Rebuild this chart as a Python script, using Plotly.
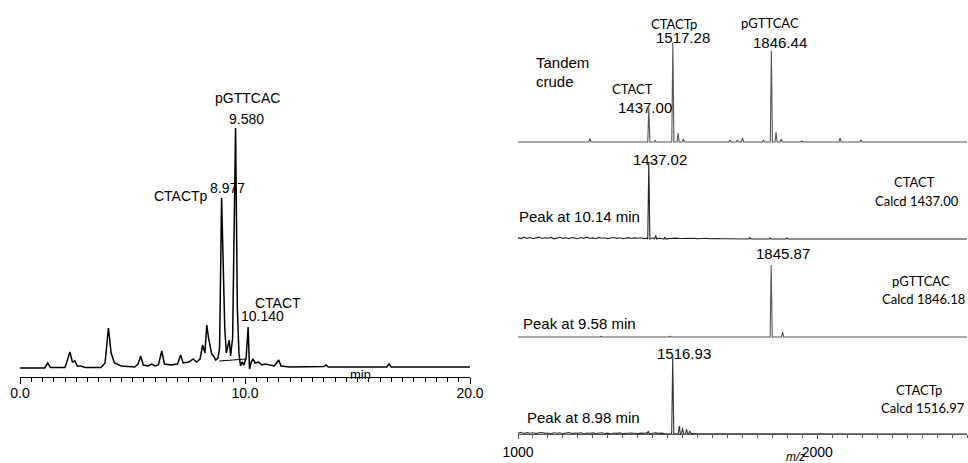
import plotly.graph_objects as go

W, H = 968, 463


def px(x):
    return x / W


def py(y):
    return 1 - y / H


# ---------------- data: HPLC chromatogram (min, signal) ----------------
chrom_time = [0.0, 1.1, 1.23, 1.35, 2.0, 2.12, 2.22, 2.33, 2.44, 2.55, 2.7, 2.9,
              3.6, 3.78, 3.93, 4.05, 4.2, 4.5, 5.1, 5.25, 5.36, 5.48, 5.7, 5.85,
              6.0, 6.15, 6.3, 6.42, 6.7, 7.0, 7.14, 7.25, 7.5, 7.7, 7.85, 8.0,
              8.12, 8.22, 8.3, 8.38, 8.44, 8.52, 8.6, 8.7, 8.8, 8.87, 8.96, 9.03,
              9.1, 9.17, 9.23, 9.3, 9.36, 9.45, 9.58, 9.66, 9.73, 9.8, 9.87, 9.95,
              10.05, 10.14, 10.2, 10.28, 10.36, 10.45, 10.6, 10.75, 10.9, 11.1,
              11.3, 11.5, 11.6, 12.0, 13.0, 13.5, 13.6, 13.7, 15.0, 16.3, 16.4,
              16.5, 18.0, 20.0]
chrom_signal = [0, 0, 5, 0.5, 0.5, 8, 16, 6, 7, 2, 2, 0.5,
                0.5, 5, 40, 15, 5, 2, 1, 4, 12, 3, 2, 4,
                2, 3, 17, 4, 3, 4, 13, 5, 6, 9, 6, 9,
                23, 15, 43, 30, 21, 14, 12, 8, 10, 20, 170, 90,
                40, 15, 20, 28, 12, 30, 240, 60, 15, 2, 6, 3,
                10, 41, -1, 6, 9, 5, 6, 3, 4, 3,
                2, 8, 2, 1, 1, 1.5, 3, 1, 1, 1, 4,
                1, 1, 1]
integ_time = [8.85, 9.3, 10.05]
integ_signal = [7, 8, 9]

chrom_peak_rt = ["8.977", "9.580", "10.140"]
chrom_peak_name = ["CTACTp", "pGTTCAC", "CTACT"]

# ---------------- data: mass spectra (m/z, intensity) ----------------
crude_mz = [1240, 1437.00, 1458, 1517.28, 1535, 1552, 1708, 1733, 1750, 1820,
            1846.44, 1862, 1879, 1948, 2076, 2146]
crude_int = [3.5, 34, 1.5, 99, 9, 3, 2, 2, 4, 2, 91, 10, 3, 1, 4, 2]

ctact_mz = [1437.02, 1460, 1491, 1775, 1842, 1898]
ctact_int = [77, 3.5, 2, 1.5, 1, 1]
ctact_noise = [1.2, 0.4, 1.8, 0.6, 1.5, 0.3, 1.1, 1.9, 0.5, 1.3, 0.8, 1.6, 0.2,
               1.0, 1.7, 0.6, 1.2, 0.4, 1.5, 0.9, 0.3, 1.4, 0.7, 1.8, 0.5, 1.1,
               0.3, 1.6, 0.8, 1.2, 0.4, 1.0, 1.5, 0.6, 1.3, 0.2, 0.9, 1.4, 0.5,
               1.1, 0.7, 1.3, 0.4, 0.9, 0.6, 1.2, 0.3, 0.8, 0.5, 1.0, 0.4, 0.7,
               0.3, 0.9, 0.5, 0.6, 0.3, 0.8, 0.4, 0.6, 0.2, 0.5, 0.4, 0.7, 0.3,
               0.5, 0.2, 0.4, 0.3, 0.5, 0.2]

pgttcac_mz = [1277, 1508, 1845.87, 1884]
pgttcac_int = [0.8, 0.8, 72, 5]

ctactp_mz = [1435, 1516.93, 1539, 1550, 1563, 1574]
ctactp_int = [3, 77, 8, 6, 5, 3]
ctactp_noise = [1.0, 1.6, 0.5, 1.4, 0.8, 1.2, 0.4, 1.1, 1.5, 0.6, 1.0, 0.3, 1.3,
                0.7, 1.2, 0.5, 0.9, 1.4, 0.4, 1.0, 0.6, 1.2, 0.3, 0.9, 0.7, 1.1,
                0.4, 0.8, 1.2, 0.5, 0.9, 0.3, 1.0, 0.6, 1.1, 0.4, 0.8, 0.5, 1.0,
                0.7, 0.4, 0.9, 0.6, 1.2, 0.5, 0.8, 1.1, 0.6, 0.9, 0.4, 0.5, 0.3,
                0.6, 0.3, 0.5, 0.2, 0.4, 0.3, 0.4, 0.2, 0.3]

mz_ticks = [1000, 2000]
rt_ticks = [0, 10, 20]


def build_spectrum(mz, inten, noise=None, half=3.5, start=1000, stop=2500, step=10):
    peaks = list(zip(mz, inten))
    pts = [(start, 0.0), (stop, 0.0)]
    if noise:
        for i, v in enumerate(noise):
            x = start + i * step
            if all(abs(x - m) > half for m in mz):
                pts.append((x, v))
    for m, h in peaks:
        pts.append((m - half, 0.0))
        pts.append((m, h))
        pts.append((m + half, 0.0))
    pts.sort(key=lambda p: p[0])
    return [p[0] for p in pts], [p[1] for p in pts]


ARIAL = "Liberation Sans, Arial, sans-serif"
CALIBRI = "Lato, Carlito, Calibri, sans-serif"

fig = go.Figure()

# chromatogram
fig.add_trace(go.Scatter(x=chrom_time, y=chrom_signal, mode="lines",
                         line=dict(color="black", width=1.5), xaxis="x", yaxis="y",
                         showlegend=False, hoverinfo="skip"))
fig.add_trace(go.Scatter(x=integ_time, y=integ_signal, mode="lines",
                         line=dict(color="black", width=1), xaxis="x", yaxis="y",
                         showlegend=False, hoverinfo="skip"))

spectra = [
    (crude_mz, crude_int, None, "#555555", "y2"),
    (ctact_mz, ctact_int, ctact_noise, "#222222", "y3"),
    (pgttcac_mz, pgttcac_int, None, "#555555", "y4"),
    (ctactp_mz, ctactp_int, ctactp_noise, "#333333", "y5"),
]
for mz, it, nz, col, ya in spectra:
    xs, ys = build_spectrum(mz, it, nz)
    fig.add_trace(go.Scatter(x=xs, y=ys, mode="lines", line=dict(color=col, width=1.1),
                             xaxis="x2", yaxis=ya, showlegend=False, hoverinfo="skip"))

bases = {"yaxis2": 142, "yaxis3": 239, "yaxis4": 337}
layout_axes = {}
for name, b in bases.items():
    layout_axes[name] = dict(domain=[py(b + 3), py(b - 117)], range=[-3, 117],
                             anchor="x2", visible=False, automargin=False)
layout_axes["yaxis5"] = dict(domain=[py(434), py(314)], range=[0, 120], anchor="x2",
                             visible=False, automargin=False)

fig.update_layout(
    width=W, height=H, autosize=False,
    margin=dict(l=0, r=0, t=0, b=0, pad=0),
    paper_bgcolor="white", plot_bgcolor="rgba(0,0,0,0)",
    showlegend=False,
    xaxis=dict(domain=[px(20), px(470)], range=[0, 20], anchor="y", automargin=False,
               showline=True, linecolor="black", linewidth=1,
               ticks="outside", ticklen=6, tickwidth=1, tickcolor="black",
               ticklabelstandoff=-3,
               tickmode="array", tickvals=rt_ticks,
               ticktext=[f"{v:.1f}" for v in rt_ticks],
               minor=dict(dtick=0.5, ticklen=4, ticks="outside", tickcolor="black",
                          tickwidth=1),
               showgrid=False, zeroline=False,
               tickfont=dict(family=ARIAL, size=14, color="black")),
    yaxis=dict(domain=[py(377), py(100)], range=[-9, 268], visible=False,
               automargin=False),
    xaxis2=dict(domain=[px(518), px(967)], range=[1000, 2500], anchor="y5",
                automargin=False,
                showline=True, linecolor="#555555", linewidth=1,
                ticks="outside", ticklen=4, tickwidth=1, tickcolor="#555555",
                ticklabelstandoff=1,
                tickmode="array", tickvals=mz_ticks,
                ticktext=[str(v) for v in mz_ticks],
                minor=dict(dtick=50, ticklen=2.5, ticks="outside", tickcolor="#555555",
                           tickwidth=1),
                showgrid=False, zeroline=False,
                tickfont=dict(family=ARIAL, size=14, color="black")),
    **layout_axes,
)


def label(text, x, y, family=ARIAL, size=14, xanchor="center"):
    fig.add_annotation(text=text, x=px(x), y=py(y), xref="paper", yref="paper",
                       xanchor=xanchor, yanchor="middle", showarrow=False,
                       borderpad=0, borderwidth=0,
                       font=dict(family=family, size=size, color="black"))


# chromatogram labels
label(chrom_peak_name[1], 248, 98)
label(chrom_peak_rt[1], 246, 119)
label(chrom_peak_name[0], 181, 196)
label(chrom_peak_rt[0], 227, 188)
label(chrom_peak_name[2], 278, 303)
label(chrom_peak_rt[2], 262, 316)
label("min", 360, 374, size=13)

# spectra labels
label("Tandem", 536, 62, size=15, xanchor="left")
label("crude", 536, 82, size=15, xanchor="left")
label("CTACT", 632, 89, family=CALIBRI, size=13)
label(f"{crude_mz[1]:.2f}", 645, 107, size=15)
label("CTACTp", 674, 24, family=CALIBRI, size=13)
label(f"{crude_mz[3]:.2f}", 683, 37, size=15)
label("pGTTCAC", 770, 23, family=CALIBRI, size=13)
label(f"{crude_mz[10]:.2f}", 780, 43, size=15)

label(f"{ctact_mz[0]:.2f}", 660, 159, size=15)
label("CTACT", 914, 182, family=CALIBRI, size=13)
label("Calcd 1437.00", 959, 201, family=CALIBRI, size=13, xanchor="right")
label("Peak at 10.14 min", 519, 216, size=15, xanchor="left")

label(f"{pgttcac_mz[2]:.2f}", 783, 253, size=15)
label("pGTTCAC", 921, 281, family=CALIBRI, size=13)
label("Calcd 1846.18", 965, 299, family=CALIBRI, size=13, xanchor="right")
label("Peak at 9.58 min", 523, 323, size=15, xanchor="left")

label(f"{ctactp_mz[1]:.2f}", 684, 353, size=15)
label("CTACTp", 919, 390, family=CALIBRI, size=13)
label("Calcd 1516.97", 965, 408, family=CALIBRI, size=13, xanchor="right")
label("Peak at 8.98 min", 527, 417, size=15, xanchor="left")

label("<i>m/z</i>", 795, 457, size=12)

fig.write_html("out.html",
               config={"displayModeBar": False, "staticPlot": True},
               post_script="document.body.style.margin='0';"
                           "document.body.style.overflow='hidden';")
